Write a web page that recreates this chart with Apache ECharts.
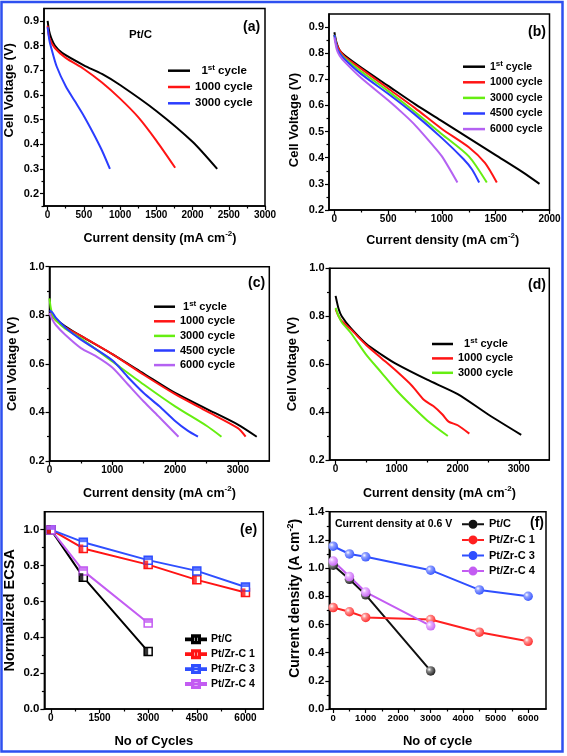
<!DOCTYPE html>
<html><head><meta charset="utf-8">
<script src="https://cdn.jsdelivr.net/npm/echarts@6/dist/echarts.min.js"></script>
<style>html,body{margin:0;padding:0;background:#fff}#c{width:567px;height:756px}</style>
</head><body><div id="c"></div>
<script>
// ---------------- DATA ----------------
// (a) Pt/C polarization curves  [current density mA/cm2, cell voltage V]
const a_1st  = [[0,0.90],[20,0.86],[50,0.83],[100,0.80],[200,0.77],[500,0.72],[750,0.685],[1000,0.64],[1500,0.535],[2000,0.41],[2340,0.30]];
const a_1000 = [[0,0.88],[25,0.83],[100,0.79],[250,0.75],[500,0.705],[750,0.65],[1000,0.585],[1250,0.51],[1500,0.415],[1760,0.305]];
const a_3000 = [[0,0.875],[25,0.82],[55,0.785],[125,0.715],[250,0.635],[375,0.575],[500,0.515],[630,0.445],[750,0.375],[860,0.30]];
// (b)
const b_1st  = [[0,0.88],[20,0.84],[50,0.81],[100,0.79],[250,0.745],[500,0.675],[750,0.605],[1000,0.54],[1250,0.475],[1500,0.41],[1750,0.345],[1907,0.30]];
const b_1000 = [[0,0.87],[25,0.83],[50,0.81],[100,0.785],[250,0.74],[500,0.665],[750,0.59],[1000,0.51],[1250,0.44],[1400,0.38],[1510,0.305]];
const b_3000 = [[0,0.87],[25,0.82],[50,0.80],[100,0.78],[250,0.73],[500,0.655],[750,0.575],[1000,0.49],[1250,0.405],[1417,0.305]];
const b_4500 = [[0,0.87],[25,0.82],[50,0.80],[100,0.775],[250,0.72],[500,0.645],[750,0.565],[1000,0.475],[1200,0.395],[1280,0.355],[1346,0.305]];
const b_6000 = [[0,0.86],[25,0.81],[50,0.79],[100,0.765],[250,0.705],[500,0.62],[650,0.565],[750,0.525],[900,0.455],[1000,0.405],[1144,0.305]];
// (c)
const c_1st  = [[0,0.82],[50,0.80],[100,0.785],[250,0.755],[500,0.715],[1000,0.64],[1500,0.56],[2000,0.48],[2500,0.415],[3000,0.35],[3300,0.30]];
const c_1000 = [[0,0.81],[50,0.795],[100,0.78],[250,0.75],[500,0.715],[1000,0.64],[1500,0.555],[2000,0.475],[2500,0.405],[3000,0.335],[3123,0.30]];
const c_3000 = [[0,0.87],[20,0.83],[50,0.80],[100,0.78],[250,0.745],[500,0.705],[1000,0.61],[1500,0.515],[2000,0.425],[2500,0.345],[2738,0.30]];
const c_4500 = [[0,0.82],[50,0.81],[100,0.79],[250,0.75],[500,0.70],[1000,0.615],[1250,0.545],[1500,0.48],[1750,0.425],[2000,0.365],[2200,0.325],[2364,0.30]];
const c_6000 = [[0,0.81],[50,0.78],[100,0.76],[250,0.72],[500,0.665],[750,0.63],[1000,0.585],[1250,0.515],[1500,0.445],[1750,0.38],[2054,0.30]];
// (d)
const d_1st  = [[0,0.885],[50,0.83],[100,0.80],[250,0.75],[500,0.685],[750,0.64],[1000,0.60],[1500,0.535],[2000,0.475],[2500,0.39],[3040,0.305]];
const d_1000 = [[0,0.83],[50,0.80],[100,0.78],[250,0.745],[500,0.68],[750,0.625],[1000,0.57],[1250,0.51],[1450,0.45],[1600,0.425],[1750,0.39],[1850,0.36],[2000,0.345],[2190,0.31]];
const d_3000 = [[0,0.835],[50,0.80],[100,0.775],[250,0.73],[500,0.64],[750,0.565],[1000,0.49],[1250,0.425],[1500,0.365],[1838,0.30]];
// (e) normalized ECSA vs cycles
const e_ptc = [[0,1.0],[1000,0.735],[3000,0.32]];
const e_z1  = [[0,1.0],[1000,0.895],[3000,0.805],[4500,0.72],[6000,0.65]];
const e_z3  = [[0,1.0],[1000,0.93],[3000,0.83],[4500,0.77],[6000,0.68]];
const e_z4  = [[0,1.0],[1000,0.77],[3000,0.48]];
// (f) current density at 0.6 V vs cycles
const f_ptc = [[0,1.02],[500,0.92],[1000,0.81],[3000,0.27]];
const f_z1  = [[0,0.72],[500,0.69],[1000,0.65],[3000,0.635],[4500,0.545],[6000,0.48]];
const f_z3  = [[0,1.155],[500,1.10],[1000,1.08],[3000,0.985],[4500,0.845],[6000,0.80]];
const f_z4  = [[0,1.05],[500,0.94],[1000,0.83],[3000,0.59]];

// tick values
const a_xMaj = [0,500,1000,1500,2000,2500,3000];
const a_xMin = [250,750,1250,1750,2250,2750];
const a_yMaj = [0.2,0.3,0.4,0.5,0.6,0.7,0.8,0.9];
const a_yMin = [0.15,0.25,0.35,0.45,0.55,0.65,0.75,0.85];
const b_xMaj = [0,500,1000,1500,2000];
const b_xMin = [250,750,1250,1750];
const b_yMaj = [0.2,0.3,0.4,0.5,0.6,0.7,0.8,0.9];
const b_yMin = [0.25,0.35,0.45,0.55,0.65,0.75,0.85];
const cd_xMaj = [0,1000,2000,3000];
const cd_xMin = [500,1500,2500];
const cd_yMaj = [0.2,0.4,0.6,0.8,1.0];
const cd_yMin = [0.3,0.5,0.7,0.9];
const e_xMaj = [0,1500,3000,4500,6000];
const e_xMin = [750,2250,3750,5250];
const e_yMaj = [0.0,0.2,0.4,0.6,0.8,1.0];
const e_yMin = [0.1,0.3,0.5,0.7,0.9];
const f_xMaj = [0,1000,2000,3000,4000,5000,6000];
const f_xMin = [500,1500,2500,3500,4500,5500];
const f_yMaj = [0.0,0.2,0.4,0.6,0.8,1.0,1.2,1.4];
const f_yMin = [0.1,0.3,0.5,0.7,0.9,1.1,1.3];

// legend labels
const LBL = {
  a1:'  1{sup|st} cycle', a2:'1000 cycle', a3:'3000 cycle',
  b1:'1{sup|st} cycle', b2:'1000 cycle', b3:'3000 cycle', b4:'4500 cycle', b5:'6000 cycle',
  c1:' 1{sup|st} cycle', c2:'1000 cycle', c3:'3000 cycle', c4:'4500 cycle', c5:'6000 cycle',
  d1:'  1{sup|st} cycle', d2:'1000 cycle', d3:'3000 cycle',
  e1:'Pt/C', e2:'Pt/Zr-C 1', e3:'Pt/Zr-C 3', e4:'Pt/Zr-C 4',
  f1:'Pt/C', f2:'Pt/Zr-C 1', f3:'Pt/Zr-C 3', f4:'Pt/Zr-C 4'
};

// ---------------- BUILD ----------------
const F = 'Arial, "Liberation Sans", Helvetica, sans-serif';
const BLACK='#000000', RED='#ff1414', GREEN='#66ee11', BLUE='#2b3dff', PURPLE='#b462f2';
const grids=[], xAxes=[], yAxes=[], series=[], legends=[];
const xFmt = v => String(v);
const yFmt = v => v.toFixed(1);

function axes(gi, dim, range, maj, min, lblSize, fmt, name, gap, pad, nameSize){
  const pos = dim==='x' ? 'bottom' : 'left';
  const main = {
    type:'value', gridIndex:gi, min:range[0], max:range[1], position:pos,
    axisLine:{show:true,onZero:false,lineStyle:{color:'#000',width:1.5}},
    axisTick:{show:true,inside:false,length:4,lineStyle:{color:'#000',width:1.2},customValues:maj},
    axisLabel:{show:true,customValues:maj,color:'#000',fontWeight:'bold',fontSize:lblSize,fontFamily:F,margin:dim==='x'?4:5,formatter:fmt,hideOverlap:false},
    splitLine:{show:false},
    name:name, nameLocation:'middle', nameGap:gap, nameRotate: dim==='y'?90:0,
    nameTextStyle:{color:'#000',fontWeight:'bold',fontSize:nameSize,fontFamily:F,padding:pad,lineHeight:nameSize+4,
      rich:{sup:{fontSize:Math.round(nameSize*0.62),fontWeight:'bold',fontFamily:F,color:'#000',verticalAlign:'top',lineHeight:nameSize+4}}}
  };
  const minor = {
    type:'value', gridIndex:gi, min:range[0], max:range[1], position:pos,
    axisLine:{show:false,onZero:false},
    axisTick:{show:true,inside:false,length:2.5,lineStyle:{color:'#000',width:1.2},customValues:min},
    axisLabel:{show:false}, splitLine:{show:false}
  };
  return [main, minor];
}

function panel(p){
  const gi = grids.length;
  grids.push(Object.assign({show:true,borderColor:'#000',borderWidth:1.5,backgroundColor:'rgba(0,0,0,0)',containLabel:false}, p.grid));
  xAxes.push(...axes(gi,'x',p.xr,p.xMaj,p.xMin,p.xLbl,xFmt,p.xName,p.xGap,p.xPad,p.xNameSize));
  yAxes.push(...axes(gi,'y',p.yr,p.yMaj,p.yMin,p.yLbl,yFmt,p.yName,p.yGap,p.yPad,p.yNameSize));
  return gi;
}

function curve(gi, name, data, color){
  series.push({type:'line', name, xAxisIndex:2*gi, yAxisIndex:2*gi, data, symbol:'none', showSymbol:false,
    smooth:0.25, lineStyle:{color, width:2}, itemStyle:{color}, silent:true, z:3});
}

function legend(names, left, top, iw, ih, gap, size, icon){
  legends.push({orient:'vertical', left, top, itemWidth:iw, itemHeight:ih, itemGap:gap, padding:0,
    selectedMode:false, icon: icon, data:names, formatter:n=>LBL[n],
    textStyle:{color:'#000',fontWeight:'bold',fontSize:size,fontFamily:F,lineHeight:14,
      rich:{sup:{fontSize:8,fontWeight:'bold',fontFamily:F,color:'#000',verticalAlign:'top',lineHeight:9}}}});
}

const CD = 'Current density (mA cm{sup|-2})';
// (a)
let g = panel({grid:{left:44,top:8.5,width:221,height:197.5}, xr:[-50,3000], yr:[0.15,0.95],
  xMaj:a_xMaj,xMin:a_xMin,yMaj:a_yMaj,yMin:a_yMin,xLbl:10,yLbl:11,
  xName:CD,xGap:24,xPad:[0,0,0,11],xNameSize:12.5,yName:'Cell Voltage (V)',yGap:26,yPad:[0,0,0,34],yNameSize:13});
curve(g,'a1',a_1st,BLACK); curve(g,'a2',a_1000,RED); curve(g,'a3',a_3000,BLUE);
legend(['a1','a2','a3'],168,63.7,22,2.5,2.3,11.5,'rect');
// (b)
g = panel({grid:{left:329,top:14,width:220.5,height:196}, xr:[-50,2000], yr:[0.2,0.95],
  xMaj:b_xMaj,xMin:b_xMin,yMaj:b_yMaj,yMin:b_yMin,xLbl:10,yLbl:11,
  xName:CD,xGap:22,xPad:[0,0,0,7],xNameSize:12.5,yName:'Cell Voltage (V)',yGap:26,yPad:[0,16,0,0],yNameSize:13});
curve(g,'b1',b_1st,BLACK); curve(g,'b2',b_1000,RED); curve(g,'b3',b_3000,GREEN); curve(g,'b4',b_4500,BLUE); curve(g,'b5',b_6000,PURPLE);
legend(['b1','b2','b3','b4','b5'],463,59.7,22,2.5,1.6,10.5,'rect');
// (c)
g = panel({grid:{left:49.5,top:266.7,width:219.8,height:194.3}, xr:[0,3500], yr:[0.2,1.0],
  xMaj:cd_xMaj,xMin:cd_xMin,yMaj:cd_yMaj,yMin:cd_yMin,xLbl:10,yLbl:11,
  xName:CD,xGap:24,xPad:0,xNameSize:12.5,yName:'Cell Voltage (V)',yGap:29,yPad:0,yNameSize:13});
curve(g,'c1',c_1st,BLACK); curve(g,'c2',c_1000,RED); curve(g,'c3',c_3000,GREEN); curve(g,'c4',c_4500,BLUE); curve(g,'c5',c_6000,PURPLE);
legend(['c1','c2','c3','c4','c5'],154,299.7,21,2.5,0.6,11,'rect');
// (d)
g = panel({grid:{left:329.5,top:268.3,width:219.8,height:191.7}, xr:[-100,3500], yr:[0.2,1.0],
  xMaj:cd_xMaj,xMin:cd_xMin,yMaj:cd_yMaj,yMin:cd_yMin,xLbl:10,yLbl:11,
  xName:CD,xGap:25,xPad:0,xNameSize:12.5,yName:'Cell Voltage (V)',yGap:29,yPad:0,yNameSize:13});
curve(g,'d1',d_1st,BLACK); curve(g,'d2',d_1000,RED); curve(g,'d3',d_3000,GREEN);
legend(['d1','d2','d3'],432,337,21,2.5,0.4,11,'rect');

// (e)
const EB='#2f4fff', EP='#c35cf2';
g = panel({grid:{left:42.7,top:511.7,width:220.6,height:197.3}, xr:[-200,6550], yr:[0,1.1],
  xMaj:e_xMaj,xMin:e_xMin,yMaj:e_yMaj,yMin:e_yMin,xLbl:10,yLbl:11.5,
  xName:'No of Cycles',xGap:24,xPad:0,xNameSize:13,yName:'Normalized ECSA',yGap:23,yPad:0,yNameSize:14.5});
function eSeries(name, data, color, half){
  series.push({type:'line', name, xAxisIndex:2*g, yAxisIndex:2*g, data, symbol:'rect', symbolSize:8, showSymbol:true,
    lineStyle:{color,width:2}, itemStyle:{color:'#fff',borderColor:color,borderWidth:1.5}, silent:true, z:3});
  series.push({type:'scatter', name:name+'_h', xAxisIndex:2*g, yAxisIndex:2*g, data, symbol:'rect',
    symbolSize: half==='left'?[4,8]:[8,4], symbolOffset: half==='left'?[-2,0]:[0,-2],
    itemStyle:{color}, silent:true, z:4});
}
eSeries('e1',e_ptc,BLACK,'left'); eSeries('e2',e_z1,RED,'left'); eSeries('e3',e_z3,EB,'top'); eSeries('e4',e_z4,EP,'top');
// legend icons: line + hollow square with half fill (20 x 8 box)
const SQ_LINES = 'M0,3.1H6V4.9H0Z M14,3.1H20V4.9H14Z M6,0H14V8H6Z M7.4,1.4V6.6H12.6V1.4Z ';
const ICON_L = 'path://' + SQ_LINES + 'M7.4,1.4H10V6.6H7.4Z';
const ICON_T = 'path://' + SQ_LINES + 'M7.4,1.4H12.6V4H7.4Z';
legends.push({orient:'vertical', left:185, top:632.3, itemWidth:20, itemHeight:8, itemGap:0.9, padding:0, selectedMode:false,
  data:[{name:'e1',icon:ICON_L},{name:'e2',icon:ICON_L},{name:'e3',icon:ICON_T},{name:'e4',icon:ICON_T}],
  formatter:n=>LBL[n], textStyle:{color:'#000',fontWeight:'bold',fontSize:10.5,fontFamily:F,lineHeight:14}});

// (f)
g = panel({grid:{left:329.3,top:511.7,width:216.7,height:197.3}, xr:[-120,6550], yr:[0,1.4],
  xMaj:f_xMaj,xMin:f_xMin,yMaj:f_yMaj,yMin:f_yMin,xLbl:9.5,yLbl:11.5,
  xName:'No of cycle',xGap:24,xPad:0,xNameSize:13,yName:'Current density (A cm{sup|-2})',yGap:24,yPad:[0,0,0,24],yNameSize:14});
function sphere(c, light){
  return {type:'radial',x:0.35,y:0.35,r:0.75,colorStops:[{offset:0,color:'#ffffff'},{offset:0.3,color:light},{offset:1,color:c}]};
}
const FB='#111111', FR='#ff2020', FBL='#2f4fff', FP='#c35cf2';
function fSeries(name, data, color, light){
  series.push({type:'line', name, xAxisIndex:2*g, yAxisIndex:2*g, data, symbol:'circle', symbolSize:9.5, showSymbol:true,
    lineStyle:{color,width:2}, itemStyle:{color:sphere(color,light)}, silent:true, z:3});
}
fSeries('f1',f_ptc,FB,'#888888'); fSeries('f2',f_z1,FR,'#ff9090'); fSeries('f3',f_z3,FBL,'#90a0ff'); fSeries('f4',f_z4,FP,'#e6b0ff');
const ICON_C = 'path://M0,3.5H6.5V5.5H0Z M15.5,3.5H22V5.5H15.5Z M6.5,4.5A4.5,4.5 0 1,1 15.5,4.5A4.5,4.5 0 1,1 6.5,4.5Z';
legends.push({orient:'vertical', left:462, top:517.3, itemWidth:22, itemHeight:9, itemGap:1.6, padding:0, selectedMode:false,
  data:[{name:'f1',icon:ICON_C,itemStyle:{color:FB}},{name:'f2',icon:ICON_C,itemStyle:{color:FR}},
        {name:'f3',icon:ICON_C,itemStyle:{color:FBL}},{name:'f4',icon:ICON_C,itemStyle:{color:FP}}],
  formatter:n=>LBL[n], textStyle:{color:'#000',fontWeight:'bold',fontSize:11,fontFamily:F,lineHeight:14}});

function txt(text, x, y, size){
  return {type:'text', silent:true, z:50, style:{text, x, y, fill:'#000', fontSize:size, fontWeight:'bold', fontFamily:F, align:'left', verticalAlign:'middle'}};
}
const graphic = [
  {type:'rect', silent:true, z:100, shape:{x:1.5,y:2,width:561,height:749.5}, style:{fill:'none',stroke:'#2e50f0',lineWidth:2.5}},
  txt('(a)',243,27,14), txt('Pt/C',129,35,11.5),
  txt('(b)',528,32,14), txt('(c)',248,283,14), txt('(d)',528,285,14),
  txt('(e)',240,530,14), txt('(f)',530,523,14),
  txt('Current density at 0.6 V',335,524,10.5)
];

const chart = echarts.init(document.getElementById('c'), null, {renderer:'canvas', width:567, height:756});
chart.setOption({
  backgroundColor:'#ffffff', animation:false,
  grid:grids, xAxis:xAxes, yAxis:yAxes, series, legend:legends, graphic
});
</script></body></html>
